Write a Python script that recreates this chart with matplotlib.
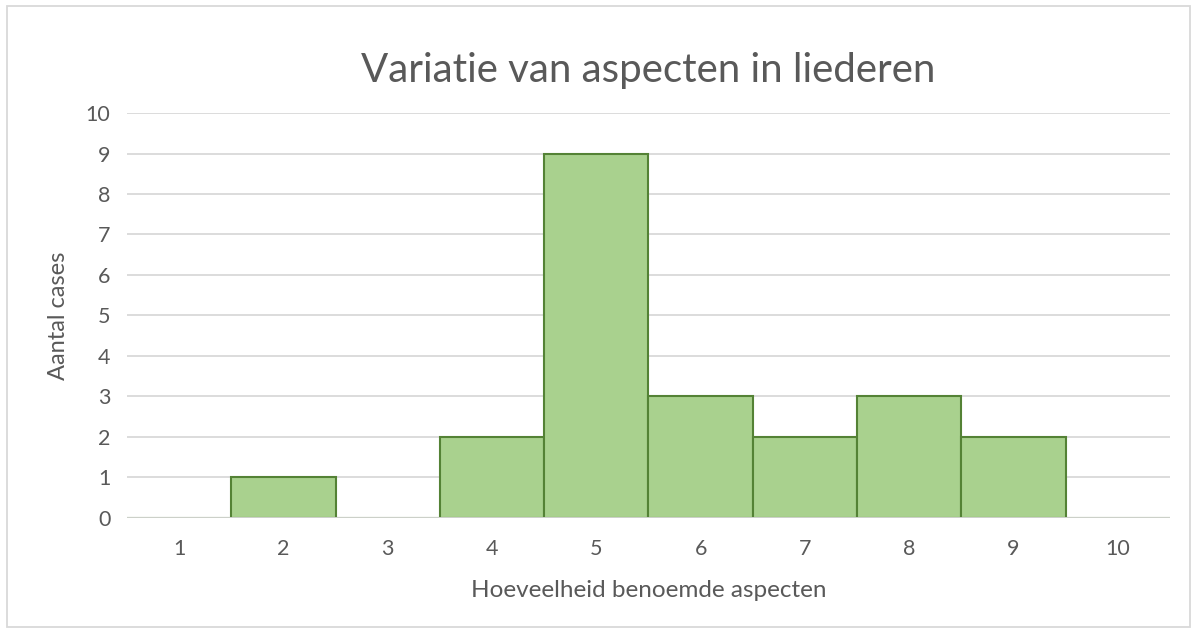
import matplotlib.pyplot as plt
from matplotlib.patches import Rectangle

# Data
categories = [1, 2, 3, 4, 5, 6, 7, 8, 9, 10]
aantal_cases = [0, 1, 0, 2, 9, 3, 2, 3, 2, 0]

plt.rcParams['font.family'] = ['Lato', 'DejaVu Sans']

fig = plt.figure(figsize=(11.97, 6.32), dpi=100)
ax = fig.add_axes([0.1061, 0.1804, 0.8713, 0.6408])

# light frame around the chart
fig.patches.append(Rectangle((0.006, 0.008), 0.988, 0.982, transform=fig.transFigure,
                             fill=False, edgecolor='#D9D9D9', linewidth=1.3))

ax.bar(categories, aantal_cases, width=1.0, color='#A9D18E', edgecolor='#548235',
       linewidth=1.5, zorder=3)
ax.axhline(0, color='#D9D9D9', linewidth=1.3, zorder=4)

ax.set_xlim(0.5, 10.5)
ax.set_ylim(0, 10)
ax.set_yticks(range(0, 11))
ax.set_xticks(categories)
ax.grid(axis='y', color='#D9D9D9', linewidth=1.3, zorder=0)
for s in ax.spines.values():
    s.set_visible(False)
ax.tick_params(axis='y', length=0, labelsize=15.5, colors='#595959', pad=12)
ax.tick_params(axis='x', length=0, labelsize=15.5, colors='#595959', pad=15)

ax.set_title('Variatie van aspecten in liederen', fontsize=29, color='#595959', pad=22)
ax.set_xlabel('Hoeveelheid benoemde aspecten', fontsize=17.5, color='#595959', labelpad=15)
ax.set_ylabel('Aantal cases', fontsize=17, color='#595959', labelpad=12)

plt.savefig('out.png', dpi=100)
